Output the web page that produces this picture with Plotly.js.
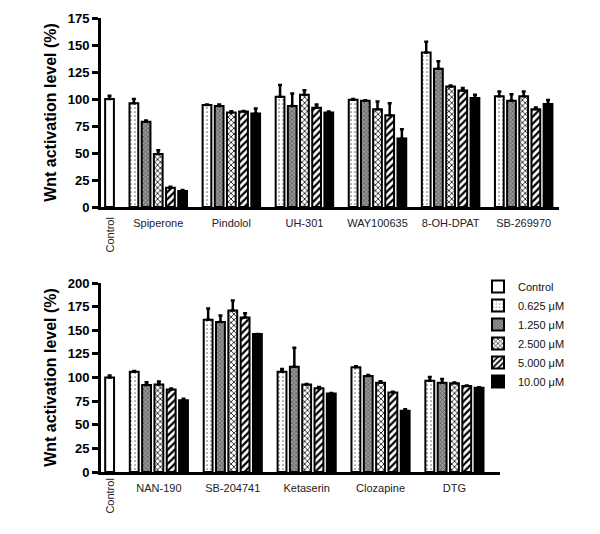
<!DOCTYPE html>
<html><head><meta charset="utf-8">
<script src="https://cdn.plot.ly/plotly-3.0.1.min.js"></script>
<style>body{margin:0;background:#fff}#c{width:600px;height:534px}</style>
</head><body><div id="c"></div>
<script>
// ---- data ----
const seriesNames = ["Control","0.625 μM","1.250 μM","2.500 μM","5.000 μM","10.00 μM"];
const drugsTop = ["Spiperone","Pindolol","UH-301","WAY100635","8-OH-DPAT","SB-269970"];
const drugsBot = ["NAN-190","SB-204741","Ketaserin","Clozapine","DTG"];

const controlTop = 100, controlTopErr = 3;
const controlBot = 100, controlBotErr = 2;

const top0625 = [96, 94.5, 102, 99.4, 143, 102.5];
const top1250 = [79, 93.5, 93.5, 98.4, 128, 98.4];
const top2500 = [49, 87.5, 104, 90.6, 111.5, 102.5];
const top5000 = [17.8, 88.5, 92, 85, 107.8, 90.6];
const top10   = [14.7, 86.5, 87.5, 63.4, 101, 95.3];
const top0625Err = [4, 0.5, 11, 0.5, 10, 4.5];
const top1250Err = [1, 1.5, 11.5, 0.5, 7, 6];
const top2500Err = [3.5, 1.2, 4, 7, 1, 4.5];
const top5000Err = [1, 0.5, 3, 11, 2.5, 1.5];
const top10Err   = [1, 4.6, 1, 8.5, 3, 3.7];

const bot0625 = [106, 161, 106, 110.8, 96.6];
const bot1250 = [92, 158.6, 111.5, 101.6, 94.5];
const bot2500 = [92.7, 171, 92.7, 94.5, 93.8];
const bot5000 = [87.4, 163.5, 88.5, 84, 91];
const bot10   = [76, 146, 83.2, 64.8, 89.2];
const bot0625Err = [1, 12, 3, 1, 4];
const bot1250Err = [3, 7, 20, 1, 4];
const bot2500Err = [3, 10.5, 0.5, 1.5, 1];
const bot5000Err = [1, 4.5, 1.5, 1, 0.5];
const bot10Err   = [1.5, 0, 0.5, 1.5, 0.5];

// ---- styling ----
const FONT = "Liberation Sans, Arial, sans-serif";
const patterns = [
  {shape:"", bgcolor:"#ffffff"},
  {shape:".", fgcolor:"#777", bgcolor:"#ffffff", size:4, solidity:0.15},
  {shape:"x", fgcolor:"#555", bgcolor:"#999", size:3, solidity:0.4},
  {shape:"x", fgcolor:"#000", bgcolor:"#fff", size:4, solidity:0.35},
  {shape:"/", fgcolor:"#000", bgcolor:"#fff", size:5, solidity:0.45},
  {shape:"", bgcolor:"#000"}
];
const fills = ["#ffffff","#ffffff","#999999","#ffffff","#ffffff","#000000"];
const BW = 0.72;

function bar(x, y, err, idx, xa, ya, showlegend){
  return {
    type:"bar", x:x, y:y, name:seriesNames[idx], xaxis:xa, yaxis:ya,
    width:BW, showlegend:showlegend, legendgroup:seriesNames[idx],
    marker:{color:fills[idx], pattern:patterns[idx], line:{color:"#000", width:2}},
    error_y:{type:"data", symmetric:false, array:err, arrayminus:err.map(()=>0),
             color:"#000", thickness:2.5, width:2}
  };
}
function positions(nGroups, k){ const out=[]; for(let g=0; g<nGroups; g++) out.push(2+6*g+k); return out; }

const topSeries = [top0625, top1250, top2500, top5000, top10];
const topErrs = [top0625Err, top1250Err, top2500Err, top5000Err, top10Err];
const botSeries = [bot0625, bot1250, bot2500, bot5000, bot10];
const botErrs = [bot0625Err, bot1250Err, bot2500Err, bot5000Err, bot10Err];

const traces = [];
traces.push(bar([0],[controlBot],[controlBotErr],0,"x2","y2",true));
for(let k=0;k<5;k++) traces.push(bar(positions(drugsBot.length,k), botSeries[k], botErrs[k], k+1, "x2","y2",true));
traces.push(bar([0],[controlTop],[controlTopErr],0,"x","y",false));
for(let k=0;k<5;k++) traces.push(bar(positions(drugsTop.length,k), topSeries[k], topErrs[k], k+1, "x","y",false));

const centers = n => Array.from({length:n},(_,g)=>4+6*g);

const yBase = {
  showline:true, linewidth:3, linecolor:"#000", ticks:"outside", ticklen:6, tickwidth:3, tickcolor:"#000",
  showgrid:false, zeroline:false, dtick:25, tick0:0,
  tickfont:{family:FONT, size:13, color:"#000", weight:"bold"},
  title:{text:"Wnt activation level (%)", font:{family:FONT, size:16, color:"#000", weight:"bold"}, standoff:8},
  automargin:false
};
const xBase = {
  showline:true, linewidth:3, linecolor:"#000", ticks:"", showgrid:false, zeroline:false,
  tickfont:{family:FONT, size:11, color:"#222"}, automargin:false, ticklabelstandoff:4
};

const layout = {
  width:600, height:534, margin:{l:0,r:0,t:0,b:0},
  paper_bgcolor:"#fff", plot_bgcolor:"#fff", barmode:"overlay", bargap:0,
  font:{family:FONT},
  xaxis:Object.assign({}, xBase, {domain:[101/600, 559/600], range:[-0.7, 36.9], anchor:"y",
        tickmode:"array", tickvals:centers(drugsTop.length), ticktext:drugsTop}),
  yaxis:Object.assign({}, yBase, {domain:[1-207/534, 1-18/534], range:[0,175], anchor:"x"}),
  xaxis2:Object.assign({}, xBase, {domain:[101/600, 500/600], range:[-0.7, 31.7], anchor:"y2",
        tickmode:"array", tickvals:centers(drugsBot.length), ticktext:drugsBot}),
  yaxis2:Object.assign({}, yBase, {domain:[1-472/534, 1-283/534], range:[0,200], anchor:"x2"}),
  legend:{x:478/600, y:1-272/534, xanchor:"left", yanchor:"top", font:{family:FONT, size:11, color:"#111"},
          tracegroupgap:0, itemwidth:30, bgcolor:"rgba(0,0,0,0)"},
  annotations:[
    {text:"Control", xref:"x", yref:"paper", x:0, y:1-235/534, textangle:-90, showarrow:false,
     xanchor:"center", yanchor:"middle", font:{family:FONT, size:11, color:"#222"}},
    {text:"Control", xref:"x2", yref:"paper", x:0, y:1-496/534, textangle:-90, showarrow:false,
     xanchor:"center", yanchor:"middle", font:{family:FONT, size:11, color:"#222"}}
  ]
};
Plotly.newPlot("c", traces, layout, {displayModeBar:false, staticPlot:true});
</script></body></html>
